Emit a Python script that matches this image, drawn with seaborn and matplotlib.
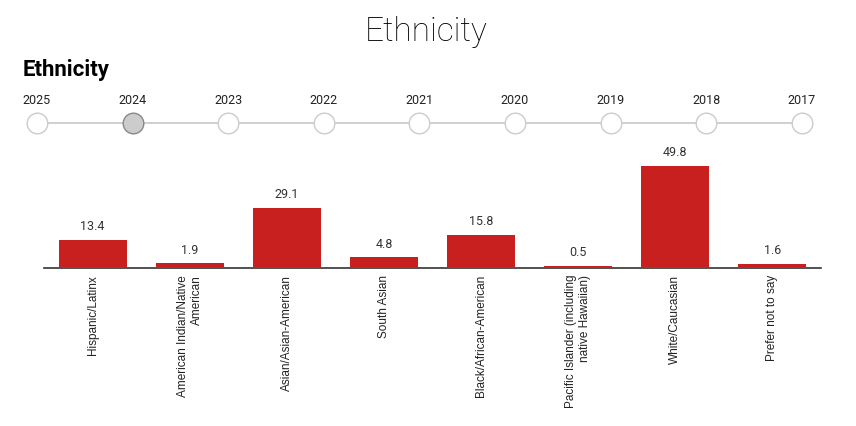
import matplotlib
matplotlib.use("Agg")
import matplotlib.pyplot as plt
import seaborn as sns
import pandas as pd

categories = ["Hispanic/Latinx", "American Indian/Native\nAmerican", "Asian/Asian-American",
              "South Asian", "Black/African-American", "Pacific Islander (including\nnative Hawaiian)",
              "White/Caucasian", "Prefer not to say"]
values = [13.4, 1.9, 29.1, 4.8, 15.8, 0.5, 49.8, 1.6]
years = ["2025", "2024", "2023", "2022", "2021", "2020", "2019", "2018", "2017"]
selected_year = "2024"

sns.set_theme(style="white")
plt.rcParams['font.family'] = ['Roboto', 'DejaVu Sans']

W, H = 856, 426
fig = plt.figure(figsize=(W / 100, H / 100), dpi=100)

# Titles
fig.text(426 / W, 1 - 32 / H, "Ethnicity", ha="center", va="center", fontsize=24,
         fontweight="light", color="#000000")
fig.text(23 / W, 1 - 70 / H, "Ethnicity", ha="left", va="center", fontsize=16,
         fontweight="bold", color="#000000")

# Timeline
tl = fig.add_axes([0, 0, 1, 1])
tl.set_xlim(0, W)
tl.set_ylim(H, 0)
tl.axis("off")
xs = [37 + i * 95.6 for i in range(len(years))]
tl.plot([xs[0], xs[-1]], [123, 123], color="#cccccc", lw=1.3, zorder=1)
for x, y in zip(xs, years):
    fc = "#cccccc" if y == selected_year else "white"
    ec = "#888888" if y == selected_year else "#cccccc"
    tl.scatter([x], [123], s=220, facecolor=fc, edgecolor=ec, linewidth=1.0, zorder=2)
    tl.text(x, 100, y, ha="center", va="center", fontsize=9, color="#222222")

# Bar chart
df = pd.DataFrame({"cat": categories, "val": values})
ax = fig.add_axes([44 / W, 1 - 268 / H, 777 / W, 128 / H])
sns.barplot(data=df, x="cat", y="val", color="#c8201f", saturation=1, width=0.7, ax=ax,
            zorder=3, linewidth=0, edgecolor="none")
ax.set_xlim(-0.5, 7.5)
ax.set_ylim(-0.5, 62.5)
ax.set_xlabel("")
ax.set_ylabel("")
ax.set_yticks([])
for s in ["top", "right", "left"]:
    ax.spines[s].set_visible(False)
ax.spines["bottom"].set_color("#333333")
ax.spines["bottom"].set_linewidth(1.2)
ax.spines["bottom"].set_zorder(1)
ax.tick_params(axis="x", length=0, pad=5)
ax.set_xticks(range(len(categories)))
ax.set_xticklabels(categories, rotation=90, fontsize=8.5, color="#222222",
                   family=["Liberation Sans", "DejaVu Sans"], multialignment="right")
for i, v in enumerate(values):
    ax.text(i, v + 3.2, f"{v}", ha="center", va="bottom", fontsize=9, color="#333333")

fig.savefig("out.png", dpi=100)
